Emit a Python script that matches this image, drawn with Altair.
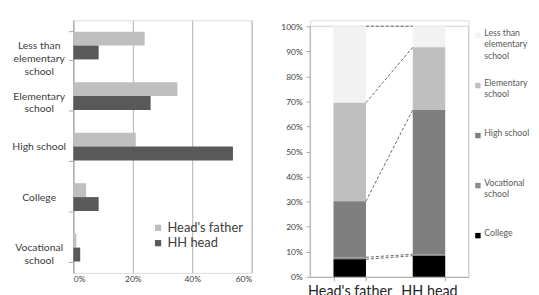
import altair as alt
import pandas as pd

FONT = "Lato"

# ---- left panel: share of each education level ----
categories = ["Less than elementary school", "Elementary school", "High school", "College", "Vocational school"]
series = ["Head's father", "HH head"]
father_share = [24.0, 35.0, 21.0, 4.3, 1.0]
head_share = [8.5, 26.0, 53.7, 8.5, 2.3]
left_ticks = [0, 20, 40, 60]

# ---- right panel: 100% stacked composition ----
groups = ["Head's father", "HH head"]
levels = ["Less than elementary school", "Elementary school", "High school", "Vocational school", "College"]
father_stack = [30.5, 39.3, 22.4, 0.8, 7.0]
head_stack = [8.4, 25.0, 57.6, 0.6, 8.4]
right_ticks = [0, 10, 20, 30, 40, 50, 60, 70, 80, 90, 100]

label_lines = {
    "Less than elementary school": ["Less than", "elementary", "school"],
    "Elementary school": ["Elementary", "school"],
    "High school": ["High school"],
    "College": ["College"],
    "Vocational school": ["Vocational", "school"],
}


def lines_expr(mapping):
    expr = "[datum.label]"
    for k, v in reversed(list(mapping.items())):
        arr = "[" + ",".join("'" + s + "'" for s in v) + "]"
        expr = f"datum.label == '{k}' ? {arr} : ({expr})"
    return expr


LBL = lines_expr(label_lines)

left_rows = []
for c, f, h in zip(categories, father_share, head_share):
    left_rows.append({"level": c, "series": series[0], "value": f})
    left_rows.append({"level": c, "series": series[1], "value": h})
left_df = pd.DataFrame(left_rows)

left = alt.Chart(left_df).mark_bar().encode(
    y=alt.Y(
        "level:N", sort=categories,
        scale=alt.Scale(domain=categories, paddingInner=0.45, paddingOuter=0.225),
        axis=alt.Axis(
            title=None, labelExpr=LBL, labelAlign="center", labelBaseline="middle",
            labelPadding=30, tickSize=5, tickBand="extent", tickColor="#a6a6a6",
            domainColor="#a6a6a6", labelFontSize=10.5, labelLineHeight=13,
            labelColor="#404040", labelFont=FONT, minExtent=65, maxExtent=65,
        ),
    ),
    yOffset=alt.YOffset("series:N", sort=series, scale=alt.Scale(domain=series, paddingInner=0, paddingOuter=0)),
    x=alt.X(
        "value:Q", scale=alt.Scale(domain=[0, 60], nice=False),
        axis=alt.Axis(
            values=left_ticks, labelExpr="datum.value + '%'", title=None, domain=False,
            grid=True, gridColor="#b0b0b0", ticks=False, labelPadding=2,
            labelFontSize=8.5, labelColor="#404040", labelFont=FONT,
        ),
    ),
    color=alt.Color(
        "series:N", sort=series,
        scale=alt.Scale(domain=series, range=["#bfbfbf", "#595959"]),
        legend=alt.Legend(
            title=None, orient="none", legendX=79, legendY=203, symbolType="square",
            symbolSize=40, symbolStrokeWidth=0, labelFontSize=13, labelFont=FONT,
            labelColor="#404040", rowPadding=1.5, padding=0, labelOffset=3,
        ),
    ),
).properties(width=180, height=255)

# right panel data
right_rows = []
for g, vals in zip(groups, [father_stack, head_stack]):
    for i, (lv, v) in enumerate(zip(levels, vals)):
        right_rows.append({"group": g, "level": lv, "value": v, "rank": len(levels) - i})
right_df = pd.DataFrame(right_rows)


def cum_tops(vals):
    out = []
    total = 0.0
    for v in reversed(vals):
        total += v
        out.append(round(total, 3))
    return out


conn_df = pd.DataFrame({
    "from": groups[0], "to": groups[1],
    "y_from": cum_tops(father_stack), "y_to": cum_tops(head_stack),
})

RH = 259
TOP = 100 * RH / 253.0
xscale = alt.Scale(domain=groups, paddingInner=0.59, paddingOuter=0.295)
yscale = alt.Scale(domain=[0, TOP], nice=False, zero=True)

x_axis_r = alt.Axis(
    title=None, labelAngle=0, labelFontSize=14.5, labelFont=FONT, labelColor="#262626",
    tickBand="extent", tickSize=4, tickColor="#a6a6a6", domainColor="#a6a6a6",
    labelPadding=4,
)
y_axis_r = alt.Axis(
    values=right_ticks, labelExpr="datum.value + '%'", title=None, grid=False,
    domain=False, tickSize=4, tickColor="#a6a6a6", labelPadding=4,
    labelFontSize=8.5, labelFont=FONT, labelColor="#404040",
    minExtent=29, maxExtent=29,
)

frame_df = pd.DataFrame({"y0": [0], "y1": [100]})

bars = alt.Chart(right_df).mark_bar().encode(
    x=alt.X("group:N", sort=groups, scale=xscale, axis=x_axis_r),
    y=alt.Y("value:Q", stack="zero", scale=yscale, axis=y_axis_r),
    color=alt.Color(
        "level:N",
        scale=alt.Scale(domain=levels, range=["#f2f2f2", "#bfbfbf", "#7f7f7f", "#8c8c8c", "#000000"]),
        legend=alt.Legend(
            title=None, orient="none", legendX=165, legendY=11, symbolType="square",
            symbolSize=30, symbolStrokeWidth=0, labelFontSize=8.8, labelFont=FONT,
            labelColor="#595959", labelExpr=LBL, labelBaseline="alphabetic",
            gridAlign="all", rowPadding=16.5, padding=0, labelLimit=60, labelOffset=2,
        ),
    ),
    order=alt.Order("rank:Q", sort="ascending"),
)

top_line = alt.Chart(frame_df).mark_rule(color="#d0d0d0").encode(
    x=alt.value(0), x2=alt.value(160), y=alt.Y("y1:Q", scale=yscale, axis=y_axis_r)
)
right_line = alt.Chart(frame_df).mark_rule(color="#d0d0d0").encode(
    x=alt.value(160), y=alt.Y("y0:Q", scale=yscale, axis=y_axis_r), y2="y1:Q"
)
left_line = alt.Chart(frame_df).mark_rule(color="#a6a6a6").encode(
    x=alt.value(0), y=alt.Y("y0:Q", scale=yscale, axis=y_axis_r), y2="y1:Q"
)

conn = alt.Chart(conn_df).mark_rule(strokeDash=[3, 2], color="#666666", strokeWidth=1).encode(
    x=alt.X("from:N", bandPosition=1, scale=xscale, axis=x_axis_r),
    x2=alt.X2("to", bandPosition=0),
    y=alt.Y("y_from:Q", scale=yscale, axis=y_axis_r),
    y2="y_to:Q",
)

right = alt.layer(top_line, right_line, bars, conn, left_line).properties(width=160, height=RH)

chart = alt.hconcat(left, right, spacing=27).resolve_scale(
    color="independent", x="independent", y="independent"
).resolve_legend(color="independent").properties(
    padding={"left": 0, "top": 5, "right": 0, "bottom": 0}
).configure_view(stroke=None).configure(
    font=FONT, style={"guide-label": {"lineHeight": 12}}
)

chart.save("out.html", embed_options={"renderer": "svg", "actions": False})
